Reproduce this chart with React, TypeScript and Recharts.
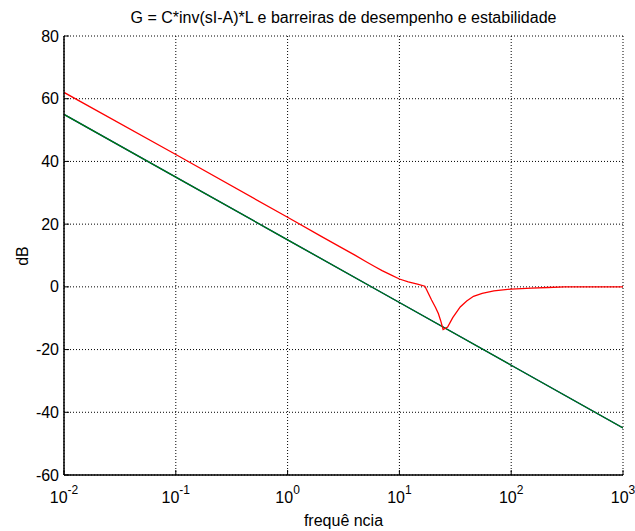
import React from 'react';
import { LineChart, Line, XAxis, YAxis, CartesianGrid } from 'recharts';

const xTicks = [0.01, 0.1, 1, 10, 100, 1000];
const xTickExp = ['-2', '-1', '0', '1', '2', '3'];
const yTicks = [-60, -40, -20, 0, 20, 40, 60, 80];

// red curve (frequency, dB)
const redFreq = [0.01, 0.1, 1, 2, 3, 4, 5, 6, 7, 8.3, 10, 12, 14.5, 16.9, 17.6, 19.4, 21, 22.3, 23.5, 24.6, 27, 30, 35, 40, 46, 55, 70, 100, 152, 213, 300, 1000];
const redDb = [62, 42.2, 22.2, 16.1, 12.6, 10.1, 8.1, 6.5, 5.2, 3.9, 2.5, 1.6, 0.9, 0.2, -1.1, -4.2, -6.5, -8.5, -11, -13.6, -12.8, -9.8, -6.4, -4.5, -3.0, -2.1, -1.3, -0.7, -0.4, -0.2, 0, 0];

// green / blue curves
const greenFreq = [0.01, 0.1, 1, 10, 100, 1000];
const greenDb = [55, 35, 15, -5, -25, -45];
const blueDb = [55, 35, 15, -5, -25, -45];

const redData = redFreq.map((w, i) => ({ w, v: redDb[i] }));
const greenData = greenFreq.map((w, i) => ({ w, v: greenDb[i] }));
const blueData = greenFreq.map((w, i) => ({ w, v: blueDb[i] }));

const FONT = '"Liberation Sans", Arial, sans-serif';

const XTick = (props: any) => {
  const { x, y, payload } = props;
  const idx = xTicks.indexOf(payload.value);
  return (
    <g>
      <line x1={x} x2={x} y1={y} y2={y - 5} stroke="#000" />
      <text x={x} y={y + 28} textAnchor="middle" fontFamily={FONT} fontSize={16} fill="#000">
        <tspan>10</tspan>
        <tspan dy={-9} fontSize={12}>{xTickExp[idx]}</tspan>
      </text>
    </g>
  );
};

const TopTick = (props: any) => {
  const { x, y } = props;
  return <line x1={x} x2={x} y1={y} y2={y + 5} stroke="#000" />;
};

const YTick = (props: any) => {
  const { x, y, payload } = props;
  return (
    <g>
      <line x1={x + 5} x2={x + 10} y1={y} y2={y} stroke="#000" />
      <text x={x} y={y} dy={5.5} textAnchor="end" fontFamily={FONT} fontSize={16} fill="#000">
        {payload.value}
      </text>
    </g>
  );
};

const RightTick = (props: any) => {
  const { x, y } = props;
  return <line x1={x - 5} x2={x} y1={y} y2={y} stroke="#000" />;
};

export default function App() {
  return (
    <div style={{ position: 'absolute', left: 0, top: 0, width: 635, height: 531, background: '#fff' }}>
      <LineChart width={635} height={531} margin={{ top: 36, right: 12, bottom: 0, left: 0 }}>
        <CartesianGrid stroke="#000" strokeDasharray="1 2" strokeWidth={1} />
        <XAxis
          dataKey="w"
          type="number"
          scale="log"
          domain={[0.01, 1000]}
          ticks={xTicks}
          interval={0}
          allowDataOverflow
          height={56}
          tickSize={0}
          tickMargin={0}
          tickLine={false}
          axisLine={{ stroke: '#000', strokeWidth: 1.5 }}
          tick={<XTick />}
        />
        <XAxis
          xAxisId="t"
          orientation="top"
          dataKey="w"
          type="number"
          scale="log"
          domain={[0.01, 1000]}
          ticks={xTicks}
          interval={0}
          allowDataOverflow
          height={0}
          tickSize={0}
          tickMargin={0}
          tickLine={false}
          axisLine={{ stroke: '#000', strokeWidth: 1.5 }}
          tick={<TopTick />}
        />
        <YAxis
          type="number"
          domain={[-60, 80]}
          ticks={yTicks}
          interval={0}
          allowDataOverflow
          width={64}
          tickSize={0}
          tickMargin={5}
          tickLine={false}
          axisLine={{ stroke: '#000', strokeWidth: 1.5 }}
          tick={<YTick />}
        />
        <YAxis
          yAxisId="r"
          orientation="right"
          type="number"
          domain={[-60, 80]}
          ticks={yTicks}
          interval={0}
          allowDataOverflow
          width={0}
          tickSize={0}
          tickMargin={0}
          tickLine={false}
          axisLine={{ stroke: '#000', strokeWidth: 1.5 }}
          tick={<RightTick />}
        />
        <Line data={blueData} dataKey="v" stroke="#0000ff" strokeWidth={1.3} dot={false} isAnimationActive={false} />
        <Line data={greenData} dataKey="v" stroke="#007f00" strokeWidth={1.3} dot={false} isAnimationActive={false} />
        <Line data={redData} dataKey="v" stroke="#ff0000" strokeWidth={1.3} dot={false} isAnimationActive={false} />
      </LineChart>
      <svg width={635} height={531} style={{ position: 'absolute', left: 0, top: 0, pointerEvents: 'none' }}>
        <text x={343.5} y={23} textAnchor="middle" fontFamily={FONT} fontSize={16} fill="#000">
          G = C*inv(sI-A)*L e barreiras de desempenho e estabilidade
        </text>
        <text x={343.5} y={526} textAnchor="middle" fontFamily={FONT} fontSize={16} fill="#000">
          frequê ncia
        </text>
        <text x={0} y={0} transform="translate(28,256) rotate(-90)" textAnchor="middle" fontFamily={FONT} fontSize={16} fill="#000">
          dB
        </text>
      </svg>
    </div>
  );
}
